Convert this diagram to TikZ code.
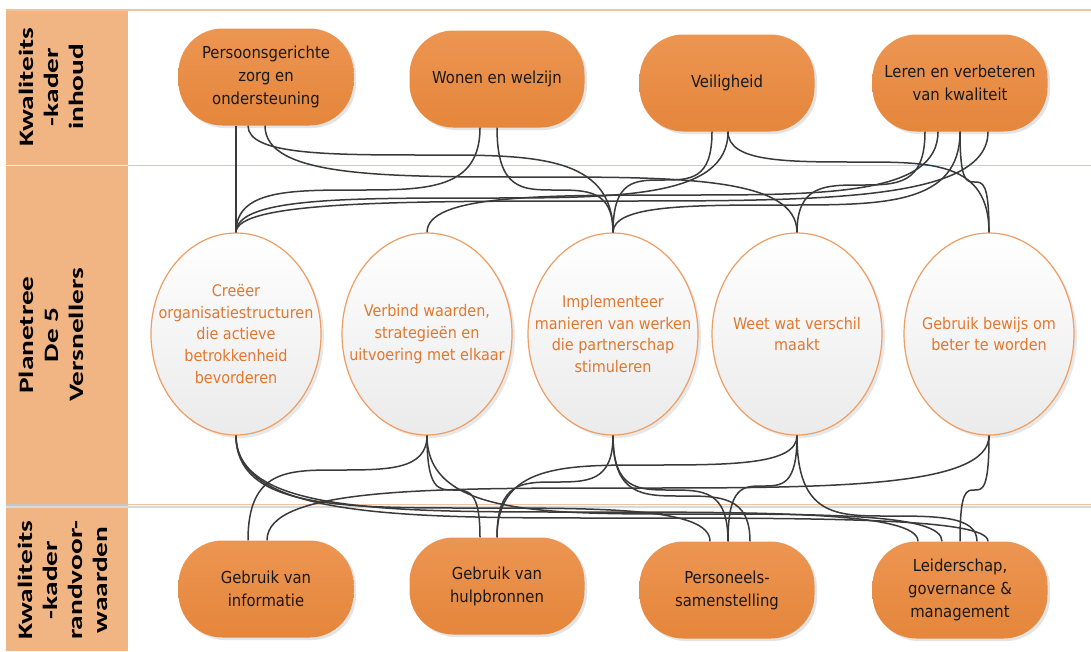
\documentclass[tikz,border=0pt]{standalone}
\usepackage{fontspec}
\usepackage{graphicx}
\setmainfont{DejaVu Sans Condensed}
\newfontfamily\bandfont{Carlito}
\usetikzlibrary{shapes.geometric,shadows,calc}

\definecolor{bandc}{HTML}{F1B584}
\definecolor{nodetop}{HTML}{EC9552}
\definecolor{nodebot}{HTML}{E5863B}
\definecolor{elbord}{HTML}{EE9E63}
\definecolor{eltext}{HTML}{E2772F}
\definecolor{linec}{HTML}{3A3A3A}
\definecolor{divc}{HTML}{F4C29A}

\tikzset{
  pill/.style={rectangle, rounded corners=44pt, minimum width=175pt, minimum height=97pt,
    inner sep=0pt, top color=nodetop, bottom color=nodebot, draw=none, align=center,
    font=\fontsize{16.5}{23}\selectfont, text=black!90,
    drop shadow={shadow xshift=2.5pt, shadow yshift=-2.5pt, opacity=0.3, fill=gray!70}},
  oval/.style={ellipse, minimum width=170pt, minimum height=202pt, inner sep=0pt,
    draw=elbord, line width=1.2pt, top color=white, bottom color=black!8,
    drop shadow={shadow xshift=3pt, shadow yshift=-3pt, opacity=0.25, fill=gray!70}},
  ovaltxt/.style={inner sep=0pt, align=center, text=eltext, font=\fontsize{16}{21.7}\selectfont},
  conn/.style={draw=linec, line width=1.5pt},
  bandtxt/.style={rotate=90, inner sep=0pt, font=\bandfont\bfseries\fontsize{20.5}{25}\selectfont},
}

\newcommand{\bandlines}[1]{\scalebox{1.43}[1]{\begin{tabular}{@{}c@{}}#1\end{tabular}}}

\newcommand{\cnx}[3]{%
  \coordinate (qlv) at (0,#3);
  \coordinate (qa) at (#1);
  \coordinate (qb) at (#2);
  \coordinate (qc) at (qa |- qlv);
  \coordinate (qd) at (qb |- qlv);
  \draw[conn] (qa) .. controls (qc) and ($(qc)!0.22!(qd)$) .. ($(qc)!0.5!(qd)$)
     .. controls ($(qc)!0.78!(qd)$) and (qd) .. (qb);
}

\begin{document}
\begin{tikzpicture}[x=1pt,y=-1pt]
\useasboundingbox (0,0) rectangle (1091,651);
\fill[white] (0,0) rectangle (1091,651);

% left band
\fill[bandc] (6,10) rectangle (128,651);
\draw[divc, line width=1.2pt] (6,10) -- (1091,10);
\draw[divc, line width=1.2pt] (128,165.5) -- (1091,165.5);
\draw[white!80!bandc, line width=1pt] (6,165.5) -- (128,165.5);
\draw[black!15, line width=1.5pt] (6,507) -- (1091,507);
\draw[divc, line width=1.2pt] (128,504.5) -- (1091,504.5);
\draw[black!22, line width=1.2pt] (6,505) -- (128,505);

\node[bandtxt] (T1) at (53,87) {\bandlines{Kwaliteits\\-kader\\inhoud}};
\node[bandtxt] (T2) at (53,335) {\bandlines{Planetree\\De 5\\Versnellers}};
\node[bandtxt] (T3) at (65,580) {\bandlines{Kwaliteits\\-kader\\randvoor-\\waarden}};

% top row
\node[pill] (P) at (266,77) {Persoonsgerichte\\zorg en\\ondersteuning};
\node[pill] (W) at (497,79) {Wonen en welzijn};
\node[pill] (V) at (727,83) {Veiligheid};
\node[pill] (L) at (960,83) {Leren en verbeteren\\van kwaliteit};

% ellipses
\node[oval] (E1) at (236,334) {};
\node[oval] (E2) at (427,334) {};
\node[oval] (E3) at (613,334) {};
\node[oval] (E4) at (797,334) {};
\node[oval] (E5) at (989,334) {};
\node[ovaltxt] (E1t) at (E1.center) {Creëer\\organisatiestructuren\\die actieve\\betrokkenheid\\bevorderen};
\node[ovaltxt] (E2t) at (E2.center) {Verbind waarden,\\strategieën en\\uitvoering met elkaar};
\node[ovaltxt] (E3t) at (E3.center) {Implementeer\\manieren van werken\\die partnerschap\\stimuleren};
\node[ovaltxt] (E4t) at (E4.center) {Weet wat verschil\\maakt};
\node[ovaltxt] (E5t) at (E5.center) {Gebruik bewijs om\\beter te worden};

% bottom row
\node[pill] (B1) at (266,589) {Gebruik van\\informatie};
\node[pill] (B2) at (497,586) {Gebruik van\\hulpbronnen};
\node[pill] (B3) at (727,590) {Personeels-\\samenstelling};
\node[pill] (B4) at (960,590) {Leiderschap,\\governance \&\\management};

% anchors
\coordinate (P1) at ([xshift=-30pt]P.south);
\coordinate (P2) at ([xshift=-18pt]P.south);
\coordinate (P3) at ([xshift=-1pt]P.south);
\coordinate (W1) at ([xshift=-17pt]W.south);
\coordinate (W2) at ([xshift=0pt]W.south);
\coordinate (V1) at ([xshift=-15pt]V.south);
\coordinate (V2) at ([xshift=1pt]V.south);
\coordinate (L1) at ([xshift=-35pt]L.south);
\coordinate (L2) at ([xshift=-22pt]L.south);
\coordinate (L3) at ([xshift=0pt]L.south);
\coordinate (L4) at ([xshift=28pt]L.south);

\coordinate (b11) at ([xshift=-18pt]B1.north);
\coordinate (b12) at ([xshift=1pt]B1.north);
\coordinate (b21) at ([xshift=-17pt]B2.north);
\coordinate (b22) at ([xshift=0pt]B2.north);
\coordinate (b31) at ([xshift=-17pt]B3.north);
\coordinate (b32) at ([xshift=1pt]B3.north);
\coordinate (b33) at ([xshift=23pt]B3.north);
\coordinate (b41) at ([xshift=-42pt]B4.north);
\coordinate (b42) at ([xshift=-18pt]B4.north);
\coordinate (b43) at ([xshift=0pt]B4.north);
\coordinate (b44) at ([xshift=17pt]B4.north);
\coordinate (b45) at ([xshift=28pt]B4.north);

% top connectors
\cnx{P1}{E1.north}{180}
\cnx{P2}{E3.north}{155}
\cnx{P3}{E4.north}{177}
\cnx{W1}{E1.north}{190}
\cnx{W2}{E3.north}{190}
\cnx{V1}{E3.north}{180}
\cnx{V2}{E1.north}{198}
\cnx{V2}{E5.north}{162}
\cnx{L1}{E4.north}{185}
\cnx{L2}{E2.north}{195}
\cnx{L3}{E5.north}{182}
\cnx{L3}{E3.north}{205}
\cnx{L4}{E1.north}{201}

% bottom connectors
\cnx{E1.south}{b31}{508}
\cnx{E1.south}{b41}{512}
\cnx{E1.south}{b45}{518}
\cnx{E2.south}{b11}{470}
\cnx{E2.south}{b21}{490}
\cnx{E2.south}{b42}{514}
\cnx{E3.south}{b22}{482}
\cnx{E3.south}{b32}{490}
\cnx{E3.south}{b33}{496}
\cnx{E4.south}{b22}{465}
\cnx{E4.south}{b32}{486}
\cnx{E4.south}{b44}{516}
\cnx{E5.south}{b43}{490}
\cnx{E5.south}{b12}{488}
\end{tikzpicture}
\end{document}
